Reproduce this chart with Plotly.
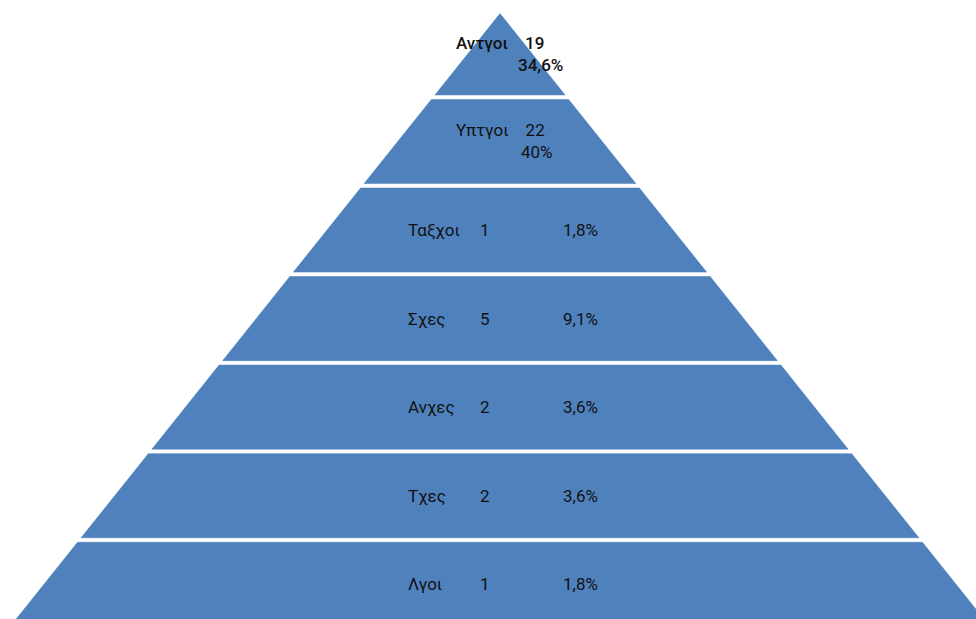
import plotly.graph_objects as go

# ---- data ----
names = ["Αντγοι", "Υπτγοι", "Ταξχοι", "Σχες", "Ανχες", "Τχες", "Λγοι"]
counts = [19, 22, 1, 5, 2, 2, 1]
pcts = ["34,6%", "40%", "1,8%", "9,1%", "3,6%", "3,6%", "1,8%"]

# ---- geometry / style constants ----
FILL = "#4F81BD"
SLOPE = 0.799        # half-width growth per layer unit
APEX = 0.055         # apex offset of the top layer
GAP = 0.05           # white gap between layers (layer units)
PX = 88.56           # pixels per layer unit (used only for axis ranges)
W, H = 976, 619
Y0 = 8.64            # pixel of layer 0 boundary
X0 = 500             # pixel of centre line

def hw(u):
    return SLOPE * (u - APEX)

fig = go.Figure()
n = len(names)
for i in range(n):
    top = APEX if i == 0 else i + GAP / 2
    bot = i + 1 - GAP / 2 if i < n - 1 else i + 1.2
    xs = [-hw(top), hw(top), hw(bot), -hw(bot), -hw(top)]
    ys = [top, top, bot, bot, top]
    fig.add_trace(go.Scatter(x=xs, y=ys, mode="lines", fill="toself",
                             fillcolor=FILL, line=dict(color=FILL, width=0.5),
                             hoverinfo="skip", showlegend=False))

font = dict(family="Roboto, Arial, sans-serif", size=17, color="#111111")
font_top = dict(font, weight=500)
u = lambda px: (px - X0) / PX

for i in range(n):
    mid = i + 0.5 if i > 0 else (APEX + 1 - GAP / 2) / 2
    f = font_top if i == 0 else font
    if i < 2:
        fig.add_annotation(x=u(500), y=mid, text=f"{names[i]}&nbsp;&nbsp;&nbsp;&nbsp;{counts[i]}",
                           showarrow=False, xanchor="center", yanchor="middle",
                           yshift=11, font=f)
        fig.add_annotation(x=u(565 if i == 0 else 555), y=mid, text=pcts[i],
                           showarrow=False, xanchor="right", yanchor="middle",
                           yshift=-11, font=f)
    else:
        fig.add_annotation(x=u(406), y=mid, text=names[i], showarrow=False,
                           xanchor="left", yanchor="middle", font=f)
        fig.add_annotation(x=u(485), y=mid, text=str(counts[i]), showarrow=False,
                           xanchor="center", yanchor="middle", font=f)
        fig.add_annotation(x=u(600), y=mid, text=pcts[i], showarrow=False,
                           xanchor="right", yanchor="middle", font=f)

fig.update_layout(
    width=W, height=H, margin=dict(l=0, r=0, t=0, b=0),
    paper_bgcolor="white", plot_bgcolor="white",
    xaxis=dict(range=[(0 - X0) / PX, (W - X0) / PX], visible=False, fixedrange=True),
    yaxis=dict(range=[(H - Y0) / PX, (0 - Y0) / PX], visible=False, fixedrange=True),
)
fig.write_html("out.html", config={"displayModeBar": False},
               post_script="document.body.style.margin='0';document.body.style.overflow='hidden';")
